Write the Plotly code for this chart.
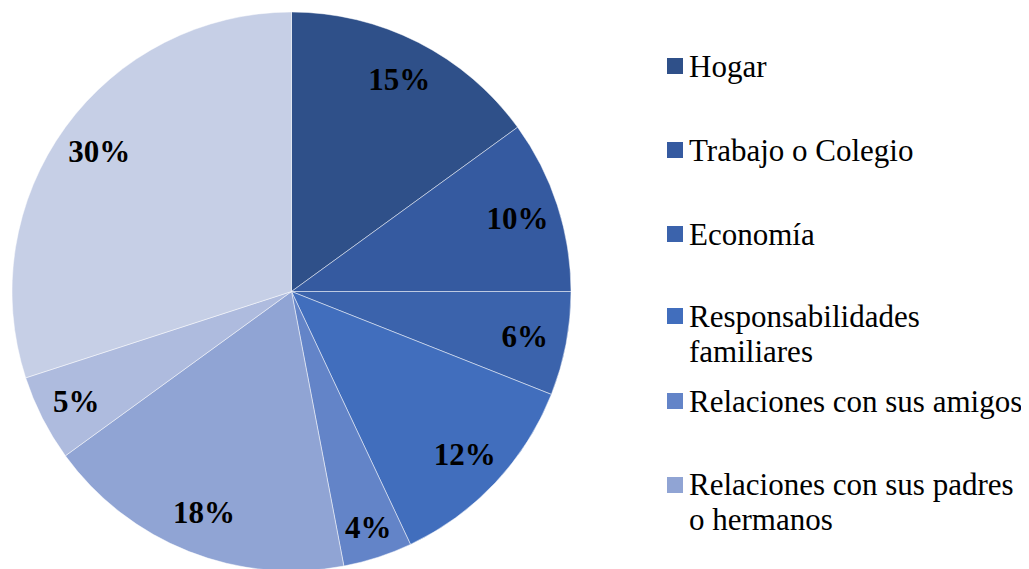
import plotly.graph_objects as go

# slices, clockwise from 12 o'clock
categories = [
    "Hogar",
    "Trabajo o Colegio",
    "Economía",
    "Responsabilidades familiares",
    "Relaciones con sus amigos",
    "Relaciones con sus padres o hermanos",
    "Otro 1",
    "Otro 2",
]
values = [15, 10, 6, 12, 4, 18, 5, 30]
colors = ["#2F5089", "#355AA0", "#3B63AC", "#416EBD",
          "#6384C8", "#90A4D4", "#AEBBDE", "#C6CFE6"]

# legend (only the first six entries are visible in the original)
legend_lines = [
    ["Hogar"],
    ["Trabajo o Colegio"],
    ["Economía"],
    ["Responsabilidades", "familiares"],
    ["Relaciones con sus amigos"],
    ["Relaciones con sus padres", "o hermanos"],
]
legend_y = [58, 142, 226, 308, 393, 477]  # pixel centre of first line (page has 8px body margin)

W, H = 1029, 569
SERIF = "Times New Roman, Liberation Serif, serif"
pie_domain = dict(x=[3 / W, 564 / W], y=[6 / H, 1 - 4 / H])

fig = go.Figure()
# coloured slices
fig.add_trace(go.Pie(
    labels=categories, values=values,
    sort=False, direction="clockwise", rotation=0,
    marker=dict(colors=colors, line=dict(color="rgba(255,255,255,0.6)", width=0.8)),
    textinfo="none", hoverinfo="label+percent",
    domain=pie_domain, showlegend=False,
))
# transparent ring carrying the percentage labels near the outer edge
fig.add_trace(go.Pie(
    labels=categories, values=values,
    sort=False, direction="clockwise", rotation=0, hole=0.7,
    marker=dict(colors=["rgba(0,0,0,0)"] * len(values), line=dict(width=0)),
    texttemplate="%{percent:.0%}",
    textposition="inside", insidetextorientation="horizontal",
    textfont=dict(family=SERIF, size=31, color="black", weight="bold"),
    hoverinfo="skip",
    domain=pie_domain, showlegend=False,
))

shapes, annotations = [], []
for i, lines in enumerate(legend_lines):
    yc = legend_y[i]
    shapes.append(dict(
        type="rect", xref="paper", yref="paper",
        x0=659 / W, x1=675 / W, y0=1 - (yc - 8) / H, y1=1 - (yc + 8) / H,
        fillcolor=colors[i], line=dict(width=0),
    ))
    for j, line in enumerate(lines):
        annotations.append(dict(
            xref="paper", yref="paper", x=679 / W, y=1 - (yc + 35 * j) / H,
            xanchor="left", yanchor="middle", showarrow=False, text=line,
            font=dict(family=SERIF, size=31, color="black"),
        ))

fig.update_layout(
    width=W, height=H,
    margin=dict(l=0, r=0, t=0, b=0),
    paper_bgcolor="white",
    shapes=shapes, annotations=annotations,
)

fig.write_html("out.html")
